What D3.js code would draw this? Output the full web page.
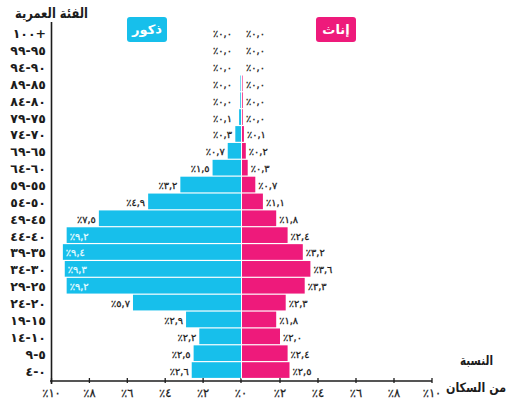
<!DOCTYPE html>
<html><head><meta charset="utf-8">
<script src="https://cdn.jsdelivr.net/npm/d3@7"></script>
<style>
html,body{margin:0;padding:0;background:#fff;}
svg{display:block;}
</style></head>
<body>
<svg id="c" width="515" height="403"></svg>
<script>
// Age groups (top to bottom), in displayed visual order
const ageGroups = ["١٠٠+","٩٩-٩٥","٩٤-٩٠","٨٩-٨٥","٨٤-٨٠","٧٩-٧٥","٧٤-٧٠","٦٩-٦٥","٦٤-٦٠","٥٩-٥٥","٥٤-٥٠","٤٩-٤٥","٤٤-٤٠","٣٩-٣٥","٣٤-٣٠","٢٩-٢٥","٢٤-٢٠","١٩-١٥","١٤-١٠","٩-٥","٤-٠"];
// Percent of population, males (ذكور)
const males =   [0.0, 0.0, 0.0, 0.03, 0.04, 0.1, 0.3, 0.7, 1.5, 3.2, 4.9, 7.5, 9.2, 9.4, 9.3, 9.2, 5.7, 2.9, 2.2, 2.5, 2.6];
// Percent of population, females (إناث)
const females = [0.0, 0.0, 0.0, 0.03, 0.04, 0.04, 0.1, 0.2, 0.3, 0.7, 1.1, 1.8, 2.4, 3.2, 3.6, 3.3, 2.3, 1.8, 2.0, 2.4, 2.5];
const ticks = [0, 2, 4, 6, 8, 10];

const BLUE = "#17BFEB", PINK = "#EE1A7B", INK = "#1c1c1c";
const FONT = "'DejaVu Sans', sans-serif";
const svg = d3.select("#c");

const arDigits = s => String(s).replace(/[0-9]/g, d => "٠١٢٣٤٥٦٧٨٩"[+d]);
const fmtVal = v => "٪" + arDigits(v.toFixed(1)).replace(".", ",");

const xM = d3.scaleLinear().domain([0, 10]).range([241, 51.5]);
const xF = d3.scaleLinear().domain([0, 10]).range([242, 432]);
const y = d3.scaleBand().domain(ageGroups).range([24.4, 378.4]).paddingInner(0.07).paddingOuter(0.03);

const rows = ageGroups.map((a, i) => ({a, m: males[i], f: females[i]}));

// bars
svg.append("g").selectAll("rect").data(rows).join("rect")
  .attr("x", d => xM(d.m)).attr("width", d => xM(0) - xM(d.m))
  .attr("y", d => y(d.a)).attr("height", y.bandwidth()).attr("fill", BLUE);
svg.append("g").selectAll("rect").data(rows).join("rect")
  .attr("x", xF(0)).attr("width", d => xF(d.f) - xF(0))
  .attr("y", d => y(d.a)).attr("height", y.bandwidth()).attr("fill", PINK);

// value labels
const lbl = sel => sel.attr("font-family", FONT).attr("font-size", 9.8)
  .attr("stroke-width", 0.3)
  .attr("direction", "ltr").attr("unicode-bidi", "bidi-override").attr("dominant-baseline", "central");
svg.append("g").selectAll("text").data(rows).join("text").call(lbl)
  .attr("x", d => d.m > 9 ? xM(d.m) + 3 : Math.min(xM(d.m) - 3, xM(0) - 9))
  .attr("text-anchor", d => d.m > 9 ? "start" : "end")
  .attr("fill", d => d.m > 9 ? "#e8fbff" : INK)
  .attr("stroke", d => d.m > 9 ? "#e8fbff" : INK)
  .attr("y", d => y(d.a) + y.bandwidth() / 2 + 1)
  .text(d => fmtVal(d.m));
svg.append("g").selectAll("text").data(rows).join("text").call(lbl)
  .attr("x", d => Math.max(xF(d.f) + 3, xF(0) + 4))
  .attr("text-anchor", "start").attr("fill", INK).attr("stroke", INK)
  .attr("y", d => y(d.a) + y.bandwidth() / 2 + 1)
  .text(d => fmtVal(d.f));

// age labels
svg.append("g").selectAll("text").data(ageGroups).join("text")
  .attr("font-family", FONT).attr("font-size", 12.5).attr("font-weight", "bold")
  .attr("direction", "ltr").attr("unicode-bidi", "bidi-override")
  .attr("text-anchor", "end").attr("dominant-baseline", "central")
  .attr("x", 46).attr("y", d => y(d) + y.bandwidth() / 2 + 1).attr("fill", INK)
  .text(d => d);

// axes lines
const baseY = 381;
svg.append("line").attr("x1", 51.5).attr("x2", 51.5).attr("y1", 22).attr("y2", baseY + 3)
  .attr("stroke", INK).attr("stroke-width", 1.6);
svg.append("line").attr("x1", 50).attr("x2", 432).attr("y1", baseY).attr("y2", baseY)
  .attr("stroke", INK).attr("stroke-width", 1.6);
const tickData = ticks.map(t => ({x: xM(t), t})).concat(ticks.filter(t => t > 0).map(t => ({x: xF(t), t})));
svg.append("g").selectAll("line").data(tickData).join("line")
  .attr("x1", d => d.x).attr("x2", d => d.x).attr("y1", baseY - 3).attr("y2", baseY + 2)
  .attr("stroke", INK).attr("stroke-width", 1.3);
svg.append("g").selectAll("text").data(tickData).join("text")
  .attr("font-family", FONT).attr("font-size", 11.5).attr("stroke", INK).attr("stroke-width", 0.25)
  .attr("direction", "ltr").attr("unicode-bidi", "bidi-override")
  .attr("text-anchor", "middle").attr("dominant-baseline", "central")
  .attr("x", d => d.x).attr("y", 393).attr("fill", INK)
  .text(d => "٪" + arDigits(d.t));

// center divider
svg.append("line").attr("x1", 241.5).attr("x2", 241.5).attr("y1", 24).attr("y2", 379)
  .attr("stroke", "#fff").attr("stroke-width", 1).attr("opacity", 0.6);

// title
svg.append("text").attr("x", 15).attr("y", 13).attr("text-anchor", "start")
  .attr("dominant-baseline", "central").attr("font-family", FONT).attr("font-weight", "bold")
  .attr("font-size", 14).attr("fill", INK)
  .attr("textLength", 73).attr("lengthAdjust", "spacingAndGlyphs").text("الفئة العمرية");

// legend boxes
const legend = [{t: "ذكور", c: BLUE, x: 127}, {t: "إناث", c: PINK, x: 316}];
const lg = svg.append("g").selectAll("g").data(legend).join("g");
lg.append("rect").attr("x", d => d.x).attr("y", 17).attr("width", 40).attr("height", 25)
  .attr("rx", 3).attr("fill", d => d.c);
lg.append("text").attr("x", d => d.x + 20).attr("y", 29.5).attr("text-anchor", "middle")
  .attr("dominant-baseline", "central").attr("font-family", FONT).attr("font-weight", "bold")
  .attr("font-size", 13).attr("fill", "#fff").text(d => d.t);

// x axis title
svg.append("text").attr("x", 460).attr("y", 360).attr("text-anchor", "start")
  .attr("dominant-baseline", "central").attr("font-family", FONT).attr("font-weight", "bold")
  .attr("font-size", 13).attr("fill", INK)
  .attr("textLength", 33).attr("lengthAdjust", "spacingAndGlyphs").text("النسبة");
svg.append("text").attr("x", 446).attr("y", 387).attr("text-anchor", "start")
  .attr("dominant-baseline", "central").attr("font-family", FONT).attr("font-weight", "bold")
  .attr("font-size", 13).attr("fill", INK)
  .attr("textLength", 60).attr("lengthAdjust", "spacingAndGlyphs").text("من السكان");
</script>
</body></html>
